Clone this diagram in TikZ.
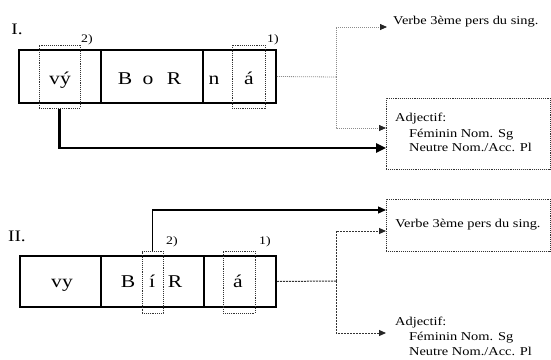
\documentclass[tikz,border=0pt]{standalone}
\usepackage{fontspec}
\setmainfont{Liberation Serif}[FakeStretch=1.2]
\usetikzlibrary{arrows.meta,calc,fit}
\begin{document}
\begin{tikzpicture}[x=1pt,y=-1pt,
  cell/.style={draw,line width=1.5pt,inner sep=0pt},
  dotbox/.style={draw=black!80,line width=1pt,dash pattern=on 1pt off 0.9pt,inner sep=0pt},
  bigtxt/.style={font=\fontsize{18}{20}\selectfont,inner sep=0pt,anchor=base},
  smalltxt/.style={font=\fontsize{11.5}{12}\selectfont,inner sep=0pt,anchor=west},
  numtxt/.style={font=\fontsize{16}{18}\selectfont,inner sep=0pt},
  lbltxt/.style={font=\fontsize{12}{15}\selectfont,inner sep=0pt},
  grayline/.style={draw=black!45,line width=0.8pt,dash pattern=on 1pt off 1pt},
  dashline/.style={draw=black!80,line width=1pt,dash pattern=on 2pt off 1pt},
  tip/.style={-{Triangle[length=7pt,width=6pt,color=black!85]}}
]
\useasboundingbox (0,0) rectangle (551,359);

% ---------- Part I ----------
\node[numtxt] (numI) at (17,29) {I.};
\node[cell,fit={(19,50)(101,103)}] (a1) {};
\node[cell,fit={(101,50)(203,103)}] (a2) {};
\node[cell,fit={(203,50)(276,103)}] (a3) {};
\node[dotbox,fit={(39,45)(80,108)}] (d2I) {};
\node[dotbox,fit={(232,45)(265,108)}] (d1I) {};
\node[smalltxt] (l2I) at (81,40) {2)};
\node[smalltxt] (l1I) at (267,40) {1)};
\node[bigtxt] (tvy) at (60,84) {vý};
\node[bigtxt] (tB) at (125,84) {B};
\node[bigtxt] (to) at (148,84) {o};
\node[bigtxt] (tR) at (174,84) {R};
\node[bigtxt] (tn) at (214,84) {n};
\node[bigtxt] (ta) at (249,84) {á};

\node[lbltxt,anchor=base west] (verbI) at (393,24) {Verbe 3ème pers du sing.};
\node[dotbox,fit={(386,98)(550,169)}] (adjI) {};
\node[lbltxt,anchor=base west] (adjIa) at (395,121) {Adjectif:};
\node[lbltxt,anchor=base west] (adjIb) at (409,137) {Féminin Nom. Sg};
\node[lbltxt,anchor=base west] (adjIc) at (409,151) {Neutre Nom./Acc. Pl};

\coordinate (jI) at (336,77);
\coordinate (vIin) at (387,27);
\coordinate (aIin) at (386,128);
\coordinate (tIend) at (386,148);
\draw[grayline] (a3.east) -- (jI);
\draw[grayline,tip] (jI) |- (vIin);
\draw[grayline,tip] (jI) |- (aIin);
\draw[line width=2.4pt,-{Triangle[length=10pt,width=9pt]}] (d2I.south) |- (tIend);

% ---------- Part II ----------
\node[numtxt] (numII) at (17,236) {II.};
\node[cell,fit={(20,256)(101,307)}] (b1) {};
\node[cell,fit={(101,256)(204,307)}] (b2) {};
\node[cell,fit={(204,256)(276,307)}] (b3) {};
\node[dotbox,fit={(142,251)(163,313)}] (d2II) {};
\node[dotbox,fit={(223,251)(255,313)}] (d1II) {};
\node[smalltxt] (l2II) at (166,242) {2)};
\node[smalltxt] (l1II) at (259,242) {1)};
\node[bigtxt] (uvy) at (62,287) {vy};
\node[bigtxt] (uB) at (128,287) {B};
\node[bigtxt] (ui) at (152,287) {í};
\node[bigtxt] (uR) at (175,287) {R};
\node[bigtxt] (ua) at (238,287) {á};

\node[dotbox,fit={(386,199)(550,251)}] (verbII) {};
\node[lbltxt] (verbIItxt) at (verbII.center) {Verbe 3ème pers du sing.};
\node[lbltxt,anchor=base west] (adjIIa) at (395,325) {Adjectif:};
\node[lbltxt,anchor=base west] (adjIIb) at (409,340) {Féminin Nom. Sg};
\node[lbltxt,anchor=base west] (adjIIc) at (409,355) {Neutre Nom./Acc. Pl};

\coordinate (vIIin) at (386,210);
\coordinate (jII) at (336,281);
\coordinate (vIIin2) at (386,231);
\coordinate (aIIin) at (386,333);
\draw[line width=1.3pt,-{Triangle[length=8pt,width=7pt]}] (d2II.north) |- (vIIin);
\draw[dashline] (b3.east) -- (jII);
\draw[dashline,tip] (jII) |- (vIIin2);
\draw[dashline,tip] (jII) |- (aIIin);
\end{tikzpicture}
\end{document}
